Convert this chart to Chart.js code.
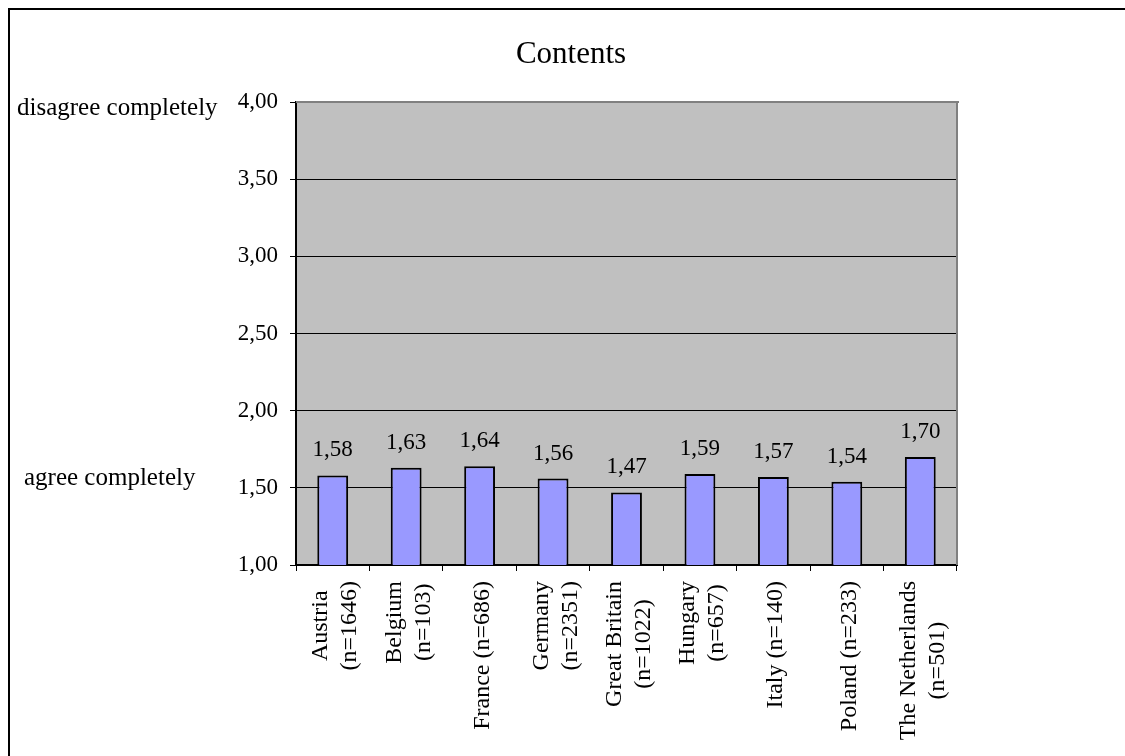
<!DOCTYPE html>
<html>
<head>
<meta charset="utf-8">
<script src="https://cdn.jsdelivr.net/npm/chart.js@4.4.1/dist/chart.umd.min.js"></script>
<style>
  html, body { margin: 0; padding: 0; background: #fff; }
  #wrap { width: 1125px; height: 756px; position: relative; }
</style>
</head>
<body>
<div id="wrap"><canvas id="chart"></canvas></div>
<script>
// Chart content
const chartTitle = "Contents";
const categoryLabels = [
  ["Austria", "(n=1646)"],
  ["Belgium", "(n=103)"],
  ["France (n=686)"],
  ["Germany", "(n=2351)"],
  ["Great Britain", "(n=1022)"],
  ["Hungary", "(n=657)"],
  ["Italy (n=140)"],
  ["Poland (n=233)"],
  ["The Netherlands", "(n=501)"]
];
const meanScores = [1.58, 1.63, 1.64, 1.56, 1.47, 1.59, 1.57, 1.54, 1.70];
const axisMin = 1.0;
const axisMax = 4.0;
const axisStep = 0.5;
const scaleEndTop = "disagree completely";
const scaleEndBottom = "agree completely";

const SERIF = "'Liberation Serif', 'Times New Roman', serif";
const fmt = v => v.toFixed(2).replace('.', ',');

// Background, outer frame, grey plot area
const backdrop = {
  id: 'backdrop',
  beforeDraw(chart) {
    const { ctx, chartArea: a, width, height } = chart;
    ctx.save();
    ctx.fillStyle = '#ffffff';
    ctx.fillRect(0, 0, width, height);
    ctx.fillStyle = '#000000';
    ctx.fillRect(8, 8, width - 8, 2);
    ctx.fillRect(8, 8, 2, height - 8);
    ctx.fillStyle = '#C0C0C0';
    ctx.fillRect(a.left, a.top, a.right - a.left, a.bottom - a.top);
    ctx.restore();
  }
};

// Value labels above the bars
const valueLabels = {
  id: 'valueLabels',
  afterDatasetsDraw(chart) {
    const { ctx } = chart;
    const meta = chart.getDatasetMeta(0);
    ctx.save();
    ctx.fillStyle = '#000';
    ctx.font = `23px ${SERIF}`;
    ctx.textAlign = 'center';
    ctx.textBaseline = 'alphabetic';
    meta.data.forEach((bar, i) => {
      ctx.fillText(fmt(meanScores[i]), bar.x, bar.y - 19);
    });
    ctx.restore();
  }
};

// Plot border, rotated category labels, scale-end captions and title
const decorations = {
  id: 'decorations',
  afterDraw(chart) {
    const { ctx, chartArea: a, scales } = chart;
    const xs = scales.x, ys = scales.y;
    ctx.save();

    // grey border on top and right of the plot area
    ctx.fillStyle = '#808080';
    ctx.fillRect(a.left, a.top - 1, a.right - a.left + 2, 2);
    ctx.fillRect(a.right - 1, a.top - 1, 2, a.bottom - a.top + 1);

    // category labels, rotated, lines centred on each other
    ctx.fillStyle = '#000';
    ctx.font = `24px ${SERIF}`;
    ctx.textAlign = 'center';
    ctx.textBaseline = 'alphabetic';
    const labelTop = a.bottom + 16;
    const pitch = 29;
    categoryLabels.forEach((lines, i) => {
      const cx = xs.getPixelForTick(i);
      const w = Math.max(...lines.map(l => ctx.measureText(l).width));
      ctx.save();
      ctx.translate(cx, labelTop);
      ctx.rotate(-Math.PI / 2);
      lines.forEach((line, j) => {
        const v = 9 + (j - (lines.length - 1) / 2) * pitch;
        ctx.fillText(line, -w / 2, v);
      });
      ctx.restore();
    });

    // scale-end captions
    ctx.font = `25px ${SERIF}`;
    ctx.textAlign = 'left';
    ctx.fillText(scaleEndTop, 17, ys.getPixelForValue(axisMax) + 13);
    ctx.fillText(scaleEndBottom, 24, ys.getPixelForValue(1.5) - 3);

    // title
    ctx.font = `31px ${SERIF}`;
    ctx.textAlign = 'center';
    ctx.fillText(chartTitle, 571, 63);

    ctx.restore();
  }
};

new Chart(document.getElementById('chart'), {
  type: 'bar',
  data: {
    labels: categoryLabels,
    datasets: [{
      data: meanScores,
      backgroundColor: '#9999FF',
      borderColor: '#000000',
      borderWidth: 2,
      borderSkipped: false,
      categoryPercentage: 1.0,
      barPercentage: 0.42
    }]
  },
  options: {
    responsive: true,
    maintainAspectRatio: false,
    animation: false,
    events: [],
    layout: { padding: { top: 102, right: 168, bottom: 0, left: 0 } },
    plugins: {
      legend: { display: false },
      title: { display: false },
      tooltip: { enabled: false }
    },
    scales: {
      x: {
        type: 'category',
        offset: true,
        grid: {
          display: true,
          offset: true,
          drawOnChartArea: false,
          drawTicks: true,
          tickLength: 6,
          color: '#000',
          lineWidth: 1
        },
        border: { display: true, color: '#000', width: 2 },
        ticks: { display: false },
        afterFit(scale) { scale.height = 191; }
      },
      y: {
        min: axisMin,
        max: axisMax,
        ticks: {
          stepSize: axisStep,
          callback: v => fmt(v),
          color: '#000',
          font: { family: SERIF, size: 23 },
          padding: 12
        },
        grid: {
          color: '#000',
          lineWidth: 1,
          drawTicks: true,
          tickLength: 6
        },
        border: { display: true, color: '#000', width: 2 },
        afterFit(scale) { scale.width = 296; }
      }
    }
  },
  plugins: [backdrop, valueLabels, decorations]
});
</script>
</body>
</html>
